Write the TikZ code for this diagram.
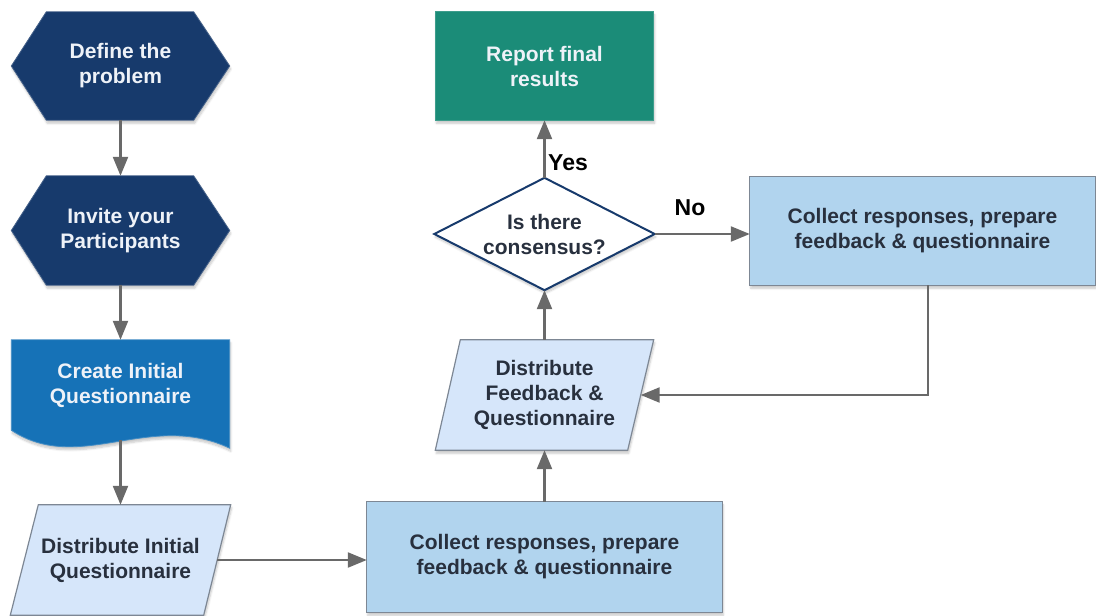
\documentclass[tikz,border=0pt]{standalone}
\usepackage{fontspec}
\setmainfont{Liberation Sans}
\usetikzlibrary{arrows.meta,backgrounds,calc,shadows.blur}
\definecolor{navy}{RGB}{23,58,108}
\definecolor{docblue}{RGB}{22,114,183}
\definecolor{paleblue}{RGB}{214,230,250}
\definecolor{boxblue}{RGB}{177,212,238}
\definecolor{reportgreen}{RGB}{27,140,120}
\definecolor{linegray}{RGB}{105,105,105}
\definecolor{edgegray}{RGB}{125,135,148}
\definecolor{darktext}{RGB}{40,48,62}
\definecolor{lighttext}{RGB}{238,242,248}
\begin{document}
\begin{tikzpicture}[x=1pt,y=-1pt,
  frame/.style={rectangle,inner sep=0pt,draw=none,align=center,
    font=\fontsize{21}{25}\bfseries\selectfont,minimum width=#1},
  lighttxt/.style={text=lighttext},
  darktxt/.style={text=darktext},
  answer/.style={inner sep=0pt,font=\fontsize{23}{25}\bfseries\selectfont,text=black},
  arr/.style={draw=linegray,line width=2.3pt,-{Triangle[length=19pt,width=15pt]}},
  shade/.style={blur shadow={shadow blur steps=6,shadow xshift=1pt,shadow yshift=-3pt,shadow opacity=22}},
  darkfill/.style={fill=#1,draw=#1!80!white,line width=0.8pt,shade},
  lightfill/.style={fill=#1,draw=edgegray,line width=1.2pt,shade}]
\useasboundingbox (0,0) rectangle (1096,616);

% nodes
\node[frame=218,minimum height=108,lighttxt] (h1) at (120.5,66) {Define the\\problem};
\node[frame=218,minimum height=109,lighttxt] (h2) at (120.5,230.5) {Invite your\\Participants};
\node[frame=218,minimum height=90,lighttxt] (doc) at (120.5,385) {Create Initial\\Questionnaire};
\node[frame=220,minimum height=110,darktxt] (di) at (120.5,560) {Distribute Initial\\Questionnaire};
\node[frame=355,minimum height=110,darktxt] (c1) at (544.5,557) {Collect responses, prepare\\feedback \& questionnaire};
\node[frame=218,minimum height=110,darktxt] (df) at (544.5,395) {Distribute\\Feedback \&\\Questionnaire};
\node[frame=220,minimum height=112,text=darktext] (dia) at (544.5,234) {Is there\\consensus?};
\node[frame=218,minimum height=108,lighttxt] (rep) at (544.5,66) {Report final\\results};
\node[frame=345,minimum height=108,darktxt] (c2) at (922.5,231) {Collect responses, prepare\\feedback \& questionnaire};

% shapes
\begin{scope}[on background layer]
  \path[darkfill=navy] (h1.west) -- ($(h1.north west)+(35,0)$) -- ($(h1.north east)+(-36,0)$)
    -- (h1.east) -- ($(h1.south east)+(-36,0)$) -- ($(h1.south west)+(35,0)$) -- cycle;
  \path[darkfill=navy] (h2.west) -- ($(h2.north west)+(35,0)$) -- ($(h2.north east)+(-36,0)$)
    -- (h2.east) -- ($(h2.south east)+(-36,0)$) -- ($(h2.south west)+(35,0)$) -- cycle;
  \path[darkfill=docblue] (doc.north west) -- (doc.north east) -- ($(doc.south east)+(0,18)$)
    .. controls ($(doc.south east)+(-80,-20)$) and ($(doc.south west)+(68,45)$) .. (doc.south west) -- cycle;
  \path[lightfill=paleblue] ($(di.north west)+(28,0)$) -- (di.north east) -- ($(di.south east)+(-27,0)$)
    -- (di.south west) -- cycle;
  \path[lightfill=boxblue] (c1.north west) rectangle (c1.south east);
  \path[lightfill=paleblue] ($(df.north west)+(25,0)$) -- (df.north east) -- ($(df.south east)+(-26,0)$)
    -- (df.south west) -- cycle;
  \path[fill=white,draw=navy,line width=2pt,shade] (dia.north) -- (dia.east) -- (dia.south) -- (dia.west) -- cycle;
  \path[fill=reportgreen,draw=reportgreen!85!white,line width=0.8pt,shade] (rep.north west) rectangle (rep.south east);
  \path[lightfill=boxblue] (c2.north west) rectangle (c2.south east);
\end{scope}

% connectors
\draw[arr] (h1.south) -- (h2.north);
\draw[arr] (h2.south) -- (doc.north);
\draw[arr] ($(doc.south)+(0,10)$) -- (di.north);
\draw[arr] ($(di.east)+(-13.5,0)$) -- (c1.west |- di.east);
\draw[arr] (c1.north) -- (df.south);
\draw[arr] (df.north) -- (dia.south);
\draw[arr] (dia.north) -- (rep.south);
\draw[arr] (dia.east) -- (dia.east -| c2.west);
\draw[arr] ($(c2.south)+(5.5,0)$) |- ($(df.east)+(-13,0)$);

% labels
\node[answer,anchor=west] (yes) at (548,163) {Yes};
\node[answer] (no) at (690,208) {No};
\end{tikzpicture}
\end{document}
